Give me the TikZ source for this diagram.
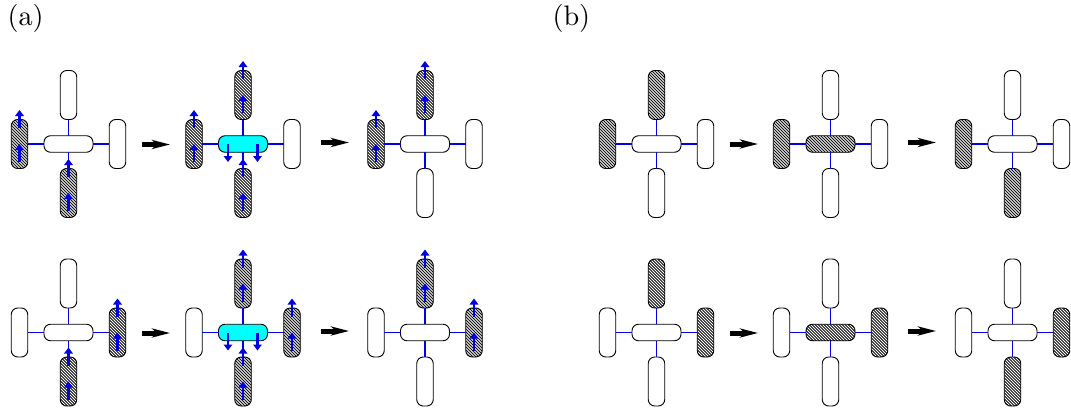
\documentclass[tikz,border=0pt]{standalone}
\usetikzlibrary{arrows.meta,calc}
\definecolor{wheelblue}{RGB}{0,0,225}
\definecolor{hatchdark}{RGB}{15,15,15}
\tikzset{
  part/.style={draw=black,line width=0.9pt,fill=white,rounded corners=6.5pt,inner sep=0pt,outer sep=0pt},
  wheelv/.style={part,minimum width=16.5pt,minimum height=49pt},
  wheelh/.style={part,minimum width=49pt,minimum height=16.5pt},
  empty/.style={},
  hatched/.style={fill=hatchdark,path picture={
     \foreach \k in {-72,-69,...,72}
       \draw[white,line width=0.8pt] ($(path picture bounding box.center)+(\k-40pt,40pt)$) -- ($(path picture bounding box.center)+(\k+40pt,-40pt)$);
  }},
  active/.style={fill={rgb,255:red,0;green,255;blue,255}},
  link/.style={draw=wheelblue,line width=1.5pt},
  force/.style={draw=wheelblue,fill=wheelblue,line width=2.8pt,-{Triangle[width=8.5pt,length=6pt]}},
  bigarrow/.style={draw=black,line width=5pt,-{Stealth[width=9pt,length=18pt,inset=5pt]}},
  tag/.style={inner sep=0pt,scale=2.82}
}
% name, cx, cy, top, left, right, bottom, centre
\newcommand{\vehicle}[8]{
  \node[wheelh,#8] (#1c) at (#2,#3) {};
  \node[wheelv,#4] (#1t) at (#2,#3-49) {};
  \node[wheelv,#7] (#1b) at (#2,#3+49) {};
  \node[wheelv,#5] (#1l) at (#2-49,#3) {};
  \node[wheelv,#6] (#1r) at (#2+49,#3) {};
  \draw[link] (#1c) -- (#1t);
  \draw[link] (#1c) -- (#1b);
  \draw[link] (#1c) -- (#1l);
  \draw[link] (#1c) -- (#1r);
}
\newcommand{\lift}[1]{
  \draw[force] ([yshift=-18pt]#1.center) -- ([yshift=0pt]#1.center);
  \draw[force] ([yshift=16pt]#1.center) -- ([yshift=34pt]#1.center);
}
\newcommand{\press}[1]{
  \draw[force] ([xshift=-15pt]#1.center) -- ([xshift=-15pt,yshift=-18pt]#1.center);
  \draw[force] ([xshift=14.5pt]#1.center) -- ([xshift=14.5pt,yshift=-18pt]#1.center);
}
\newcommand{\movearrow}[3]{
  \coordinate (#1s) at (#2,#3);
  \coordinate (#1e) at (#2+28,#3);
  \draw[bigarrow] (#1s) -- (#1e);
}
\begin{document}
\begin{tikzpicture}[x=1pt,y=-1pt]
\useasboundingbox (0,0) rectangle (1071,415);
\node[tag,anchor=base west] (la) at (7,25) {(a)};
\node[tag,anchor=base west] (lb) at (552,25) {(b)};
% (a) row 1
\vehicle{A}{68.5}{144}{empty}{hatched}{empty}{hatched}{empty}
\lift{Al}\lift{Ab}
\movearrow{p}{142}{144.5}
\vehicle{B}{243}{144}{hatched}{hatched}{empty}{hatched}{active}
\lift{Bt}\lift{Bl}\lift{Bb}\press{Bc}
\movearrow{q}{321}{142.5}
\vehicle{C}{425}{144}{hatched}{hatched}{empty}{empty}{empty}
\lift{Ct}\lift{Cl}
% (a) row 2
\vehicle{D}{68.5}{332.5}{empty}{empty}{hatched}{hatched}{empty}
\lift{Dr}\lift{Db}
\movearrow{r}{142}{333}
\vehicle{E}{243}{332.5}{hatched}{empty}{hatched}{hatched}{active}
\lift{Et}\lift{Er}\lift{Eb}\press{Ec}
\movearrow{s}{321}{331}
\vehicle{F}{425}{332.5}{hatched}{empty}{hatched}{empty}{empty}
\lift{Ft}\lift{Fr}
% (b) row 1
\vehicle{G}{656.5}{144}{hatched}{hatched}{empty}{empty}{empty}
\movearrow{t}{730}{144}
\vehicle{H}{830.5}{144}{empty}{hatched}{empty}{empty}{hatched}
\movearrow{u}{908}{142.5}
\vehicle{I}{1012.5}{144}{empty}{hatched}{empty}{hatched}{empty}
% (b) row 2
\vehicle{J}{656.5}{332.5}{hatched}{empty}{hatched}{empty}{empty}
\movearrow{v}{730}{333}
\vehicle{K}{830.5}{332.5}{empty}{empty}{hatched}{empty}{hatched}
\movearrow{w}{908}{331}
\vehicle{L}{1012.5}{332.5}{empty}{empty}{hatched}{hatched}{empty}
\end{tikzpicture}
\end{document}
